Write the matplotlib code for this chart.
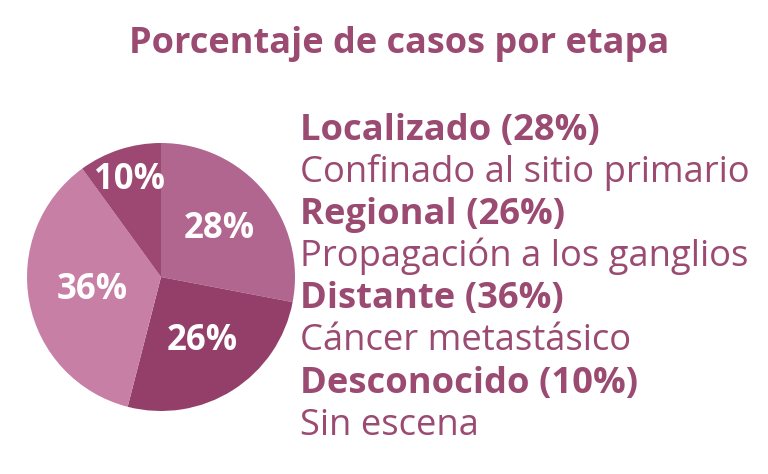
import matplotlib
matplotlib.use("Agg")
import matplotlib.pyplot as plt
import numpy as np

plt.rcParams['font.family'] = ['Open Sans', 'DejaVu Sans']

title = "Porcentaje de casos por etapa"
stages = ["Localizado", "Regional", "Distante", "Desconocido"]
descriptions = ["Confinado al sitio primario", "Propagación a los ganglios",
                "Cáncer metastásico", "Sin escena"]
values = [28, 26, 36, 10]
colors = ["#b0668e", "#933f69", "#c87fa6", "#9c4872"]
text_color = "#9b4a72"

W, H = 768, 474
fig = plt.figure(figsize=(W / 100, H / 100), dpi=100)
fig.patch.set_facecolor("white")

cx, cy, r = 161, 277, 134
ax = fig.add_axes([(cx - r) / W, (H - cy - r) / H, 2 * r / W, 2 * r / H])
wedges, _ = ax.pie(values, colors=colors, startangle=90, counterclock=False,
                   radius=1, wedgeprops=dict(linewidth=0))
ax.set_xlim(-1, 1)
ax.set_ylim(-1, 1)
ax.set_aspect("equal")
ax.axis("off")

dists = [0.56, 0.57, 0.52, 0.76]
for w, v, d in zip(wedges, values, dists):
    ang = np.deg2rad((w.theta1 + w.theta2) / 2)
    ax.text(d * np.cos(ang), d * np.sin(ang), f"{v}%", ha="center", va="center",
            color="white", fontsize=25, fontweight="bold")

def px(x, y):
    return x / W, 1 - y / H

fig.text(*px(399, 53), title, ha="center", va="baseline", color=text_color,
         fontsize=26, fontweight="bold")

x0 = 300
y0 = 140
step = 42.1
for i, (s, dsc, v) in enumerate(zip(stages, descriptions, values)):
    yb = y0 + 2 * i * step
    fig.text(*px(x0, yb), f"{s} ({v}%)", ha="left", va="baseline",
             color=text_color, fontsize=26.2, fontweight="bold")
    fig.text(*px(x0, yb + step), dsc, ha="left", va="baseline",
             color=text_color, fontsize=26.2)

fig.savefig("out.png", dpi=100, facecolor="white")
